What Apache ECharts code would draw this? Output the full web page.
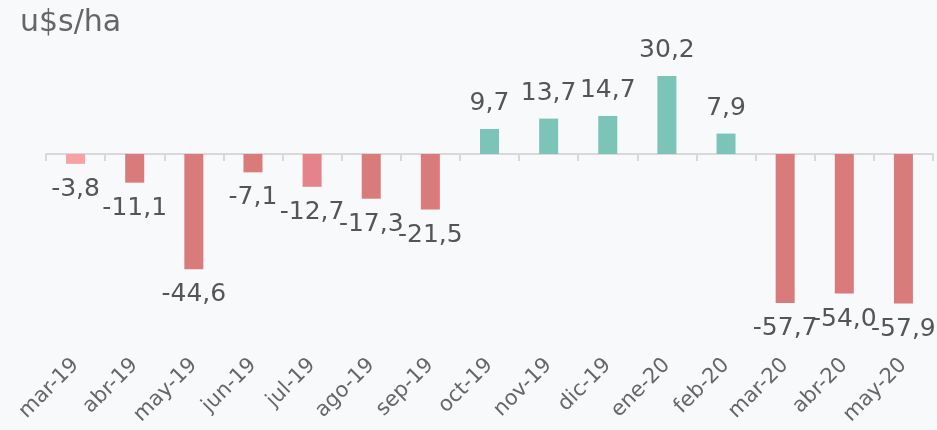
<!DOCTYPE html>
<html>
<head>
<meta charset="utf-8">
<script src="https://cdn.jsdelivr.net/npm/echarts@6/dist/echarts.min.js"></script>
<style>
html,body{margin:0;padding:0;background:#f8f9fb;}
#chart{width:937px;height:430px;}
</style>
</head>
<body>
<div id="chart"></div>
<script>
// months and margin values (u$s/ha)
var months = ['mar-19','abr-19','may-19','jun-19','jul-19','ago-19','sep-19','oct-19','nov-19','dic-19','ene-20','feb-20','mar-20','abr-20','may-20'];
var values = [-3.8, -11.1, -44.6, -7.1, -12.7, -17.3, -21.5, 9.7, 13.7, 14.7, 30.2, 7.9, -57.7, -54.0, -57.9];
var barColors = ['#f6a1a2','#d97b7a','#d97b7a','#d97b7a','#e4838a','#d97b7a','#d97b7a','#7cc4b8','#7cc4b8','#7cc4b8','#7cc4b8','#7cc4b8','#d97b7a','#d97b7a','#d97b7a'];

var chart = echarts.init(document.getElementById('chart'));

var fmt = function (v) { return v.toFixed(1).replace('.', ','); };

var barData = values.map(function (v, i) {
    return {
        value: v,
        itemStyle: { color: barColors[i] },
        label: { position: v < 0 ? 'bottom' : 'top' }
    };
});

chart.setOption({
    backgroundColor: '#f8f9fb',
    title: {
        text: 'u$s/ha',
        left: 15,
        top: 3,
        textStyle: { color: '#666', fontSize: 30, fontWeight: 'normal', fontFamily: 'DejaVu Sans' }
    },
    grid: { left: 46, right: 4, top: 61, bottom: 90 },
    xAxis: [
        {
            type: 'category',
            data: months,
            position: 'bottom',
            axisLine: { show: false, onZero: false },
            axisTick: { show: false },
            axisLabel: { rotate: 45, margin: 22, color: '#666', fontSize: 21, fontFamily: 'DejaVu Sans', interval: 0 }
        },
        {
            type: 'category',
            data: months,
            position: 'bottom',
            axisLine: { show: true, onZero: true, lineStyle: { color: '#d9d9d9', width: 2 } },
            axisTick: { show: true, length: 7, lineStyle: { color: '#d9d9d9', width: 2 } },
            axisLabel: { show: false }
        }
    ],
    yAxis: {
        type: 'value',
        min: -72,
        max: 36,
        show: false,
        splitLine: { show: false }
    },
    series: [{
        type: 'bar',
        xAxisIndex: 0,
        barWidth: 19,
        data: barData,
        label: {
            show: true,
            color: '#555',
            fontSize: 25,
            fontFamily: 'DejaVu Sans',
            distance: 13,
            formatter: function (p) { return fmt(p.value); }
        }
    }]
});
</script>
</body>
</html>
